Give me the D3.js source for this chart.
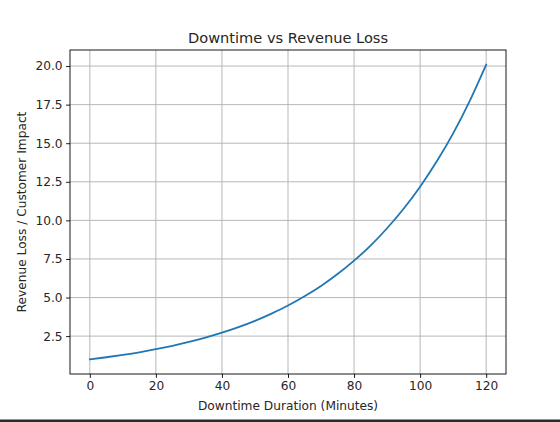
<!DOCTYPE html>
<html>
<head>
<meta charset="utf-8">
<script src="https://cdn.jsdelivr.net/npm/d3@7"></script>
<style>
  html, body { margin: 0; padding: 0; background: #fff; }
  svg { display: block; }
  text { font-family: "DejaVu Sans", sans-serif; fill: #262626; }
</style>
</head>
<body>
<script>
// Data
const minutes = [0, 5, 10, 15, 20, 25, 30, 35, 40, 45, 50, 55, 60, 65, 70, 75, 80, 85, 90, 95, 100, 105, 110, 115, 120];
const impact = [1.00, 1.13, 1.28, 1.45, 1.65, 1.87, 2.12, 2.40, 2.72, 3.08, 3.49, 3.96, 4.48, 5.08, 5.75, 6.52, 7.39, 8.37, 9.49, 10.75, 12.18, 13.81, 15.64, 17.73, 20.09];
const xTicks = [0, 20, 40, 60, 80, 100, 120];
const yTicks = [2.5, 5.0, 7.5, 10.0, 12.5, 15.0, 17.5, 20.0];
const titleText = "Downtime vs Revenue Loss";
const xLabel = "Downtime Duration (Minutes)";
const yLabel = "Revenue Loss / Customer Impact";

const W = 560, H = 422;
const m = { left: 70, right: 506, top: 50, bottom: 374 };

const svg = d3.select("body").append("svg").attr("width", W).attr("height", H);
svg.append("rect").attr("width", W).attr("height", H).attr("fill", "#fff");

const x = d3.scaleLinear().domain([-6, 126]).range([m.left, m.right]);
const y = d3.scaleLinear().domain([0.0455, 21.04]).range([m.bottom, m.top]);

// grid
const g = svg.append("g");
g.selectAll(".vg").data(xTicks).join("line")
  .attr("x1", d => x(d)).attr("x2", d => x(d))
  .attr("y1", m.top).attr("y2", m.bottom)
  .attr("stroke", "#b0b0b0").attr("stroke-width", 0.9);
g.selectAll(".hg").data(yTicks).join("line")
  .attr("y1", d => y(d)).attr("y2", d => y(d))
  .attr("x1", m.left).attr("x2", m.right)
  .attr("stroke", "#b0b0b0").attr("stroke-width", 0.9);

// line
const line = d3.line().x((d, i) => x(minutes[i])).y(d => y(d)).curve(d3.curveMonotoneX);
svg.append("path").datum(impact).attr("d", line)
  .attr("fill", "none").attr("stroke", "#1f77b4").attr("stroke-width", 1.8)
  .attr("stroke-linecap", "square");

// axes
const xAxis = d3.axisBottom(x).tickValues(xTicks).tickFormat(d3.format("d")).tickSize(3.9).tickPadding(3.5);
const yAxis = d3.axisLeft(y).tickValues(yTicks).tickFormat(d3.format(".1f")).tickSize(3.9).tickPadding(3.5);
const gx = svg.append("g").attr("transform", `translate(0,${m.bottom})`).call(xAxis);
const gy = svg.append("g").attr("transform", `translate(${m.left},0)`).call(yAxis);
[gx, gy].forEach(a => {
  a.select(".domain").remove();
  a.selectAll(".tick line").attr("stroke", "#000").attr("stroke-width", 0.9);
  a.selectAll(".tick text").attr("font-size", "12.2px").attr("fill", "#262626")
    .style("font-family", '"DejaVu Sans", sans-serif');
});

// frame
svg.append("rect").attr("x", m.left).attr("y", m.top)
  .attr("width", m.right - m.left).attr("height", m.bottom - m.top)
  .attr("fill", "none").attr("stroke", "#000").attr("stroke-width", 0.9);

// labels
svg.append("text").attr("x", (m.left + m.right) / 2).attr("y", 43)
  .attr("text-anchor", "middle").attr("font-size", "14.6px").text(titleText);
svg.append("text").attr("x", (m.left + m.right) / 2).attr("y", 410)
  .attr("text-anchor", "middle").attr("font-size", "12.2px").text(xLabel);
svg.append("text").attr("transform", `translate(26,${(m.top + m.bottom) / 2}) rotate(-90)`)
  .attr("text-anchor", "middle").attr("font-size", "12.2px").text(yLabel);

// bottom dark band
svg.append("rect").attr("x", 0).attr("y", 419.5).attr("width", W).attr("height", 2.5).attr("fill", "#2b2b2b");
</script>
</body>
</html>
